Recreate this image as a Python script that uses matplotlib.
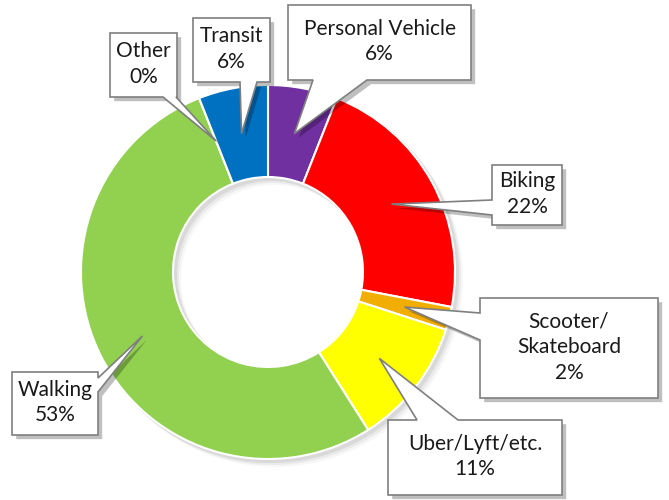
import numpy as np
import matplotlib
matplotlib.use("Agg")
import matplotlib.pyplot as plt
from matplotlib.patches import Polygon, Wedge
import matplotlib.patheffects as pe

# data, clockwise from 12 o'clock
modes = ["Personal Vehicle", "Biking", "Scooter/\nSkateboard", "Uber/Lyft/etc.",
         "Walking", "Other", "Transit"]
shares = [6, 22, 2, 11, 53, 0, 6]
colors = ["#7030A0", "#FF0000", "#F2AE00", "#FFFF00", "#92D050", "#A5A5A5", "#0070C0"]

W, H = 669, 500
fig = plt.figure(figsize=(W / 100, H / 100), dpi=100)
ax = fig.add_axes([0, 0, 1, 1])

cx, cy = 268, H - 272   # donut centre (pixels, y up)
R, ring = 187, 92

# soft shadow behind the ring
for k, a in [(7, 0.03), (5, 0.05), (3, 0.07)]:
    ax.add_patch(Wedge((cx + k, cy - k), R + 1, 0, 360, width=ring + 2,
                       facecolor="black", alpha=a, edgecolor="none", zorder=0))

wedges, _ = ax.pie(shares, colors=colors, startangle=90, counterclock=False,
                   radius=R, center=(cx, cy), frame=True,
                   wedgeprops=dict(width=ring, edgecolor="white", linewidth=1.5))

ax.set_xlim(0, W)
ax.set_ylim(0, H)
ax.set_aspect("equal")
ax.axis("off")

# callout layout: box (x0, y0, x1, y1) in image pixels, edge the pointer leaves, base span
callouts = {
    "Personal Vehicle": ((288, 5, 471, 80), "bottom", (313, 367)),
    "Biking": ((492, 165, 562, 225), "left", (200, 215)),
    "Scooter/\nSkateboard": ((480, 298, 658, 398), "left", (313, 340)),
    "Uber/Lyft/etc.": ((388, 420, 562, 495), "top", (417, 458)),
    "Walking": ((12, 372, 98, 435), "right", (378, 392)),
    "Other": ((110, 33, 177, 97), "bottom", (163, 176)),
    "Transit": ((193, 18, 270, 82), "bottom", (240, 257)),
}


def callout_poly(box, side, base, tip):
    x0, y0, x1, y1 = box
    a, b = base
    pts = [(x0, y0)]
    if side == "top":
        pts += [(a, y0), tip, (b, y0)]
    pts.append((x1, y0))
    if side == "right":
        pts += [(x1, a), tip, (x1, b)]
    pts.append((x1, y1))
    if side == "bottom":
        pts += [(b, y1), tip, (a, y1)]
    pts.append((x0, y1))
    if side == "left":
        pts += [(x0, b), tip, (x0, a)]
    return [(x, H - y) for x, y in pts]


shadow = [pe.SimplePatchShadow(offset=(3, -3), shadow_rgbFace="black", alpha=0.25),
          pe.Normal()]

for w, name, v in zip(wedges, modes, shares):
    mid = np.deg2rad((w.theta1 + w.theta2) / 2)
    r = R - ring / 2
    tx = cx + r * np.cos(mid)
    ty = H - (cy + r * np.sin(mid))
    box, side, base = callouts[name]
    poly = Polygon(callout_poly(box, side, base, (tx, ty)), closed=True,
                   facecolor="white", edgecolor="#7F7F7F", linewidth=1.2,
                   zorder=5, path_effects=shadow)
    ax.add_patch(poly)
    x0, y0, x1, y1 = box
    ax.text((x0 + x1) / 2, H - (y0 + y1) / 2 + 1, f"{name}\n{v}%", ha="center",
            va="center", fontsize=15, family="Lato", color="#1a1a1a",
            linespacing=1.35, zorder=6)

fig.savefig("out.png", dpi=100)
